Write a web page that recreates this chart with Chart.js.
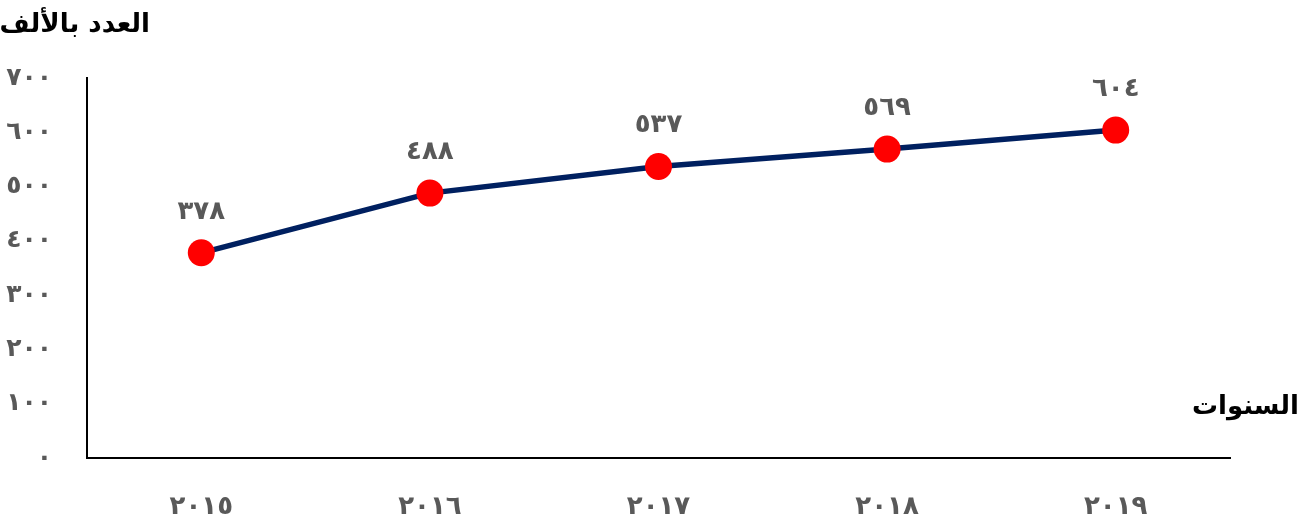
<!DOCTYPE html>
<html lang="ar">
<head>
<meta charset="utf-8">
<script src="https://cdn.jsdelivr.net/npm/chart.js@4.4.0/dist/chart.umd.min.js"></script>
<style>
  html, body { margin: 0; padding: 0; background: #fff; }
  #wrap { width: 1307px; height: 514px; }
</style>
</head>
<body>
<div id="wrap"><canvas id="chart"></canvas></div>
<script>
// dati del grafico
const anni = [2015, 2016, 2017, 2018, 2019];
const valori = [378, 488, 537, 569, 604];
const yTicks = [0, 100, 200, 300, 400, 500, 600, 700];

const titoloY = "العدد بالألف";
const titoloX = "السنوات";

// cifre arabo-indiche
function arabo(n) {
  return String(n).replace(/[0-9]/g, d => "٠١٢٣٤٥٦٧٨٩"[d]);
}

const fontAr = "'DejaVu Sans', 'Noto Sans', sans-serif";

// etichette dei valori e titoli degli assi
const etichette = {
  id: "etichette",
  afterDatasetsDraw(chart) {
    const ctx = chart.ctx;
    const meta = chart.getDatasetMeta(0);
    ctx.save();
    ctx.fillStyle = "#595959";
    ctx.font = "bold 26px " + fontAr;
    ctx.textAlign = "center";
    ctx.textBaseline = "middle";
    meta.data.forEach((p, i) => {
      ctx.fillText(arabo(valori[i]), p.x, p.y - 41);
    });
    const a = chart.chartArea;
    ctx.fillStyle = "#000";
    ctx.font = "bold 26px " + fontAr;
    ctx.textAlign = "right";
    ctx.fillText(titoloY, a.left + 63, a.top - 53);
    ctx.fillText(titoloX, 1299, a.bottom - 51);
    ctx.restore();
  }
};

new Chart(document.getElementById("chart"), {
  type: "line",
  data: {
    labels: anni.map(arabo),
    datasets: [{
      data: valori,
      borderColor: "#002060",
      borderWidth: 5.5,
      pointBackgroundColor: "#ff0000",
      pointBorderWidth: 0,
      pointRadius: 13.5,
      pointHoverRadius: 13.5,
      tension: 0
    }]
  },
  options: {
    responsive: true,
    maintainAspectRatio: false,
    animation: false,
    layout: { padding: { top: 78, right: 77, left: 0, bottom: 0 } },
    plugins: {
      legend: { display: false },
      tooltip: { enabled: false }
    },
    scales: {
      x: {
        offset: true,
        grid: { display: false },
        border: { color: "#000", width: 2 },
        ticks: {
          color: "#595959",
          padding: 26,
          font: { family: fontAr, size: 26, weight: "bold" }
        },
        afterFit(s) { s.height = 56; }
      },
      y: {
        min: 0,
        max: 700,
        afterBuildTicks(s) { s.ticks = yTicks.map(v => ({ value: v })); },
        grid: { display: false },
        border: { color: "#000", width: 2 },
        ticks: {
          color: "#595959",
          padding: 27,
          callback: v => arabo(v),
          font: { family: fontAr, size: 25, weight: "bold" }
        },
        afterFit(s) { s.width = 87; }
      }
    }
  },
  plugins: [etichette]
});
</script>
</body>
</html>
